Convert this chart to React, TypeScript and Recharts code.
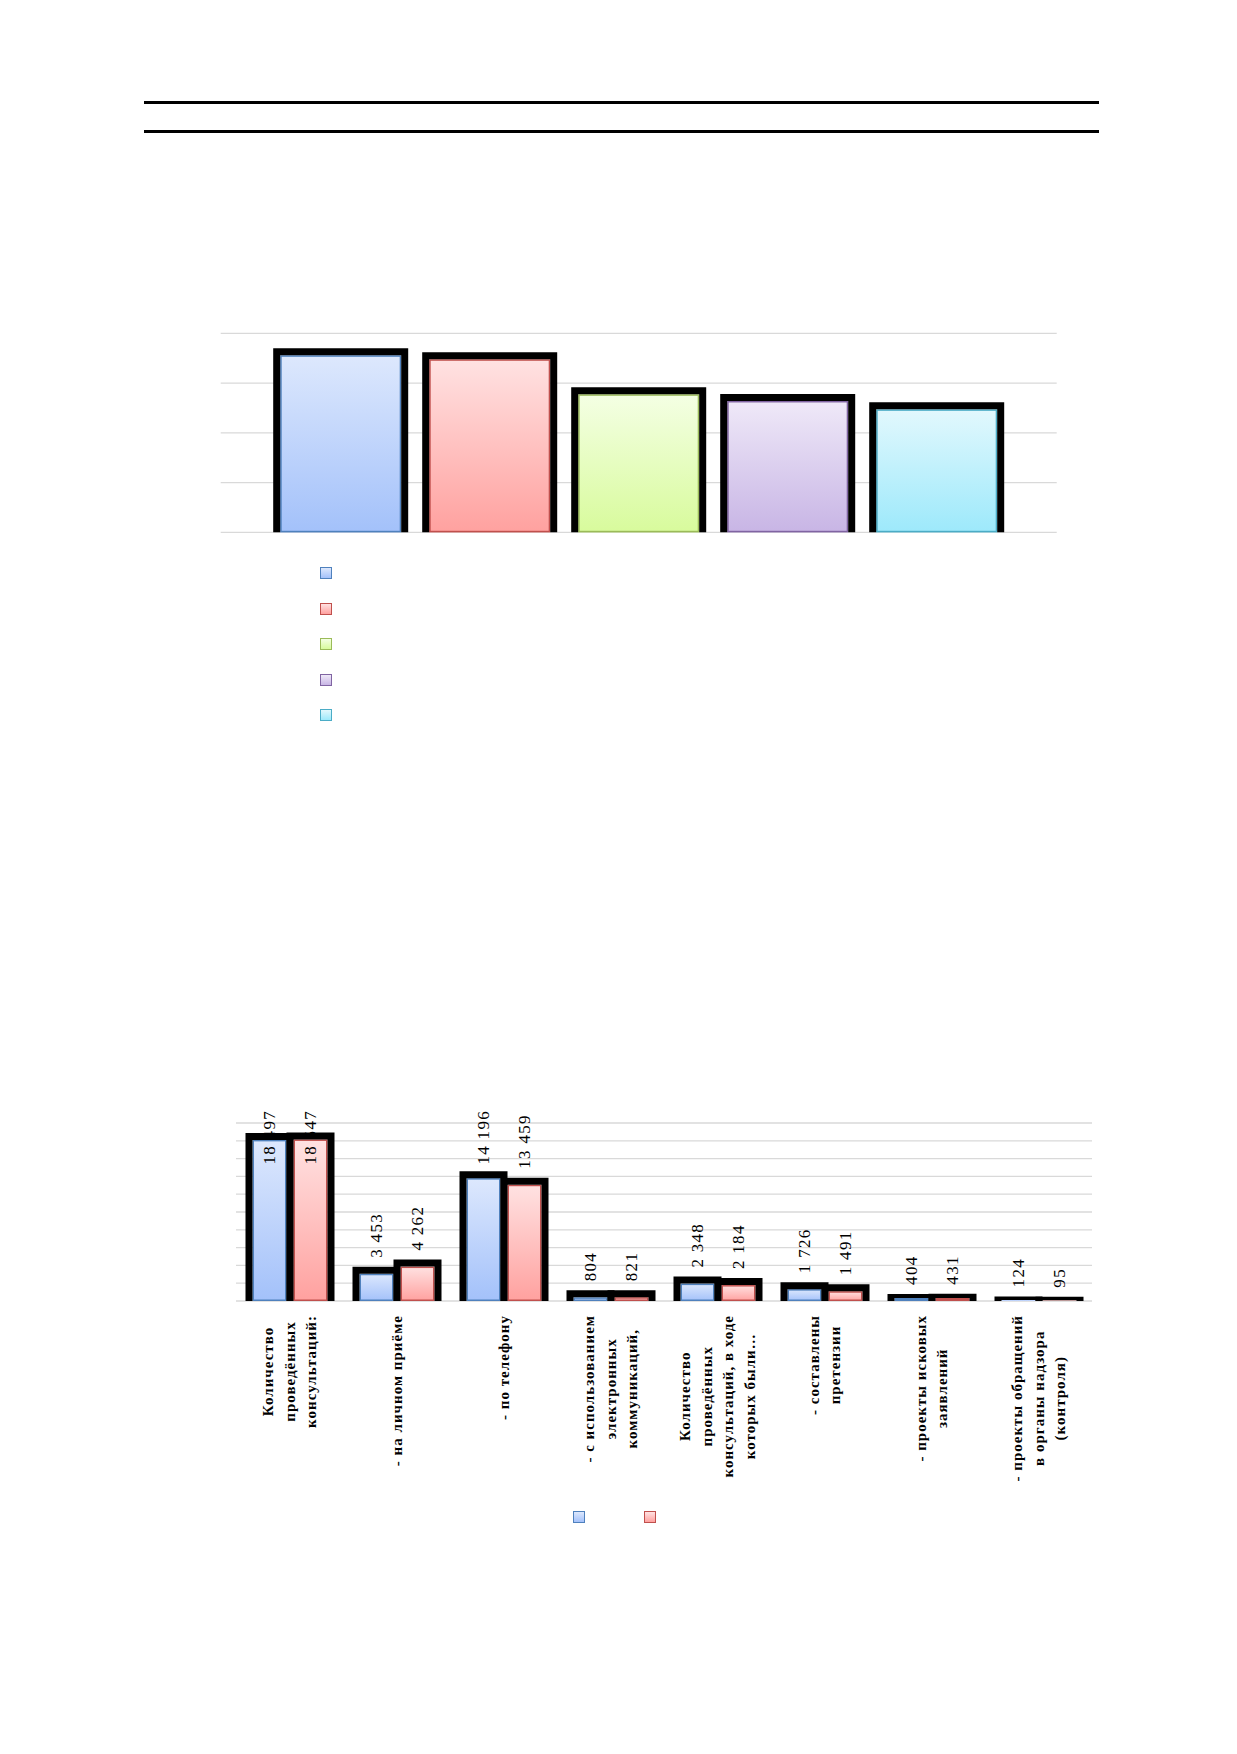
import React from 'react';
import { BarChart, Bar, XAxis, YAxis, CartesianGrid, LabelList } from 'recharts';

// ---------- Chart 1 data ----------
const CH1_CATEGORY = ['Всего'];
const CH1_KEYS = ['p1', 'p2', 'p3', 'p4', 'p5'];
const CH1_VALUES = [18140, 17740, 14220, 13550, 12710];
const CH1_TICKS = [0, 5000, 10000, 15000, 20000];

// ---------- Chart 2 data ----------
const CH2_CATEGORIES = [
  'Количество\nпроведённых\nконсультаций:',
  '- на личном приёме',
  '- по телефону',
  '- с использованием\nэлектронных\nкоммуникаций,',
  'Количество\nпроведённых\nконсультаций, в ходе\nкоторых были…',
  '- составлены\nпретензии',
  '- проекты исковых\nзаявлений',
  '- проекты обращений\nв органы надзора\n(контроля)',
];
const CH2_SERIES_A = [18497, 3453, 14196, 804, 2348, 1726, 404, 124];
const CH2_SERIES_B = [18547, 4262, 13459, 821, 2184, 1491, 431, 95];
const CH2_KEYS = ['a', 'b'];
const CH2_TICKS = [0, 2000, 4000, 6000, 8000, 10000, 12000, 14000, 16000, 18000, 20000];

// ---------- styles ----------
const PALETTE = [
  { id: 'gBlue', top: '#dde8fd', bottom: '#a3c1fa', border: '#4f81bd' },
  { id: 'gRed', top: '#ffe2e2', bottom: '#ffa19f', border: '#c0504d' },
  { id: 'gGreen', top: '#f4ffe4', bottom: '#d8fb9c', border: '#9bbb59' },
  { id: 'gPurple', top: '#efe9f8', bottom: '#c8b5e5', border: '#8064a2' },
  { id: 'gCyan', top: '#e2f8fd', bottom: '#9de9fb', border: '#4bacc6' },
];

const ch1Data = CH1_CATEGORY.map((name) => {
  const row: any = { name };
  CH1_KEYS.forEach((k, i) => (row[k] = CH1_VALUES[i]));
  return row;
});

const ch2Data = CH2_CATEGORIES.map((name, i) => ({ name, a: CH2_SERIES_A[i], b: CH2_SERIES_B[i] }));

let ctx: CanvasRenderingContext2D | null = null;
function textWidth(s: string, font: string, ls: number) {
  if (!ctx) ctx = document.createElement('canvas').getContext('2d');
  if (!ctx) return s.length * 8;
  ctx.font = font;
  return ctx.measureText(s).width + ls * s.length;
}

const fmt = (n: number) => String(n).replace(/\B(?=(\d{3})+(?!\d))/g, ' ');

function makeBarShape(gradId: string, border: string) {
  return (props: any) => {
    const { x, y, width, height } = props;
    if (x == null || y == null || width == null || height == null) return null;
    const h = Math.max(0, height);
    const bottom = y + h;
    const s = 3.5;
    const iy = Math.min(y + s, bottom - Math.min(3, h));
    const outer = `M${x - s},${y - s} H${x + width + s} V${bottom} H${x - s} Z`;
    const inner = `M${x + s},${iy} H${x + width - s} V${bottom} H${x + s} Z`;
    return (
      <g>
        {bottom - iy > 0 && (
          <rect x={x + s} y={iy} width={width - 2 * s} height={bottom - iy} fill={`url(#${gradId})`} />
        )}
        {bottom - iy > 1.5 && (
          <rect
            x={x + s + 0.75}
            y={iy + 0.75}
            width={width - 2 * s - 1.5}
            height={bottom - iy - 1.5}
            fill="none"
            stroke={border}
            strokeWidth={1.5}
          />
        )}
        <path d={`${outer} ${inner}`} fill="#000" fillRule="evenodd" />
      </g>
    );
  };
}

const LABEL_FONT = '17px "Liberation Serif"';
const LABEL_LS = 1.3;
const LABEL_TOP = 30;

const DataLabel = (props: any) => {
  const { x, y, width, value } = props;
  if (x == null || y == null) return null;
  const text = fmt(Number(value));
  const len = textWidth(text, LABEL_FONT, LABEL_LS);
  const cx = Number(x) + Number(width) / 2;
  let ay = Number(y) - 12.5;
  let anchor: 'start' | 'end' = 'start';
  if (ay - len < LABEL_TOP) {
    ay = LABEL_TOP;
    anchor = 'end';
  }
  return (
    <text
      transform={`translate(${cx},${ay}) rotate(-90)`}
      textAnchor={anchor}
      dominantBaseline="central"
      fontFamily="Liberation Serif"
      fontSize={17}
      style={{ letterSpacing: `${LABEL_LS}px` }}
      fill="#000"
    >
      {text}
    </text>
  );
};

const CAT_FONT = 'bold 15px "Liberation Serif"';
const CAT_LS = 1;
const CAT_LH = 21.7;

const CategoryTick = (props: any) => {
  const { x, y, payload } = props;
  const lines: string[] = String(payload.value).split('\n');
  const blockLen = Math.max(...lines.map((l) => textWidth(l, CAT_FONT, CAT_LS)));
  const top = Number(y) + 14;
  const n = lines.length;
  return (
    <g transform={`translate(${x},${top}) rotate(-90)`}>
      {lines.map((l, i) => (
        <text
          key={i}
          x={-blockLen / 2}
          y={(i - (n - 1) / 2) * CAT_LH}
          textAnchor="middle"
          dominantBaseline="central"
          fontFamily="Liberation Serif"
          fontWeight="bold"
          fontSize={15}
          style={{ letterSpacing: `${CAT_LS}px` }}
          fill="#000"
        >
          {l}
        </text>
      ))}
    </g>
  );
};

const legendSquare = (p: typeof PALETTE[number]) => ({
  width: 10,
  height: 10,
  border: `1.5px solid ${p.border}`,
  background: `linear-gradient(${p.top}, ${p.bottom})`,
  boxSizing: 'content-box' as const,
});

const gridFromTicks = (ticks: number[], max: number) => (props: any) => {
  const scale = props?.yAxis?.scale;
  try {
    if (typeof scale === 'function') return ticks.map((t) => scale(t));
    if (scale && typeof scale.map === 'function') return ticks.map((t) => scale.map(t));
  } catch (e) {
    /* fall through */
  }
  const off = props?.offset;
  if (off) return ticks.map((t) => off.top + off.height * (1 - t / max));
  return [];
};

export default function App() {
  return (
    <div style={{ position: 'absolute', left: 0, top: 0, width: 1237, height: 1754, background: '#fff', overflow: 'hidden' }}>
      <svg width={0} height={0} style={{ position: 'absolute' }}>
        <defs>
          {PALETTE.map((p) => (
            <linearGradient key={p.id} id={p.id} x1="0" y1="0" x2="0" y2="1">
              <stop offset="0%" stopColor={p.top} />
              <stop offset="100%" stopColor={p.bottom} />
            </linearGradient>
          ))}
        </defs>
      </svg>

      {/* header rules */}
      <div style={{ position: 'absolute', left: 144, top: 100.5, width: 955, height: 3, background: '#000' }} />
      <div style={{ position: 'absolute', left: 144, top: 129.5, width: 955, height: 3, background: '#000' }} />

      {/* Chart 1 */}
      <div style={{ position: 'absolute', left: 0, top: 0 }}>
        <BarChart
          width={1237}
          height={560}
          data={ch1Data}
          margin={{ top: 333.3, right: 180.3, left: 220.7, bottom: 27.7 }}
          barSize={128}
          barGap={21}
        >
          <CartesianGrid
            vertical={false}
            stroke="#d9d9d9"
            strokeWidth={1.3}
            horizontalCoordinatesGenerator={gridFromTicks(CH1_TICKS, 20000)}
          />
          <XAxis dataKey="name" hide />
          <YAxis
            domain={[0, 20000]}
            ticks={CH1_TICKS}
            width={0}
            tick={{ fill: 'transparent', fontSize: 1 }}
            axisLine={false}
            tickLine={false}
          />
          {CH1_KEYS.map((k, i) => (
            <Bar
              key={k}
              dataKey={k}
              isAnimationActive={false}
              shape={makeBarShape(PALETTE[i].id, PALETTE[i].border)}
            />
          ))}
        </BarChart>
      </div>

      {/* Chart 1 legend */}
      {CH1_KEYS.map((k, i) => (
        <div key={k} style={{ position: 'absolute', left: 320, top: 567.3 + i * 35.4, ...legendSquare(PALETTE[i]) }} />
      ))}

      {/* Chart 2 */}
      <div style={{ position: 'absolute', left: 0, top: 1080 }}>
        <BarChart
          width={1237}
          height={500}
          data={ch2Data}
          margin={{ top: 43, right: 145, left: 236, bottom: 79 }}
          barSize={41}
          barGap={0}
        >
          <CartesianGrid
            vertical={false}
            stroke="#d9d9d9"
            strokeWidth={1.3}
            horizontalCoordinatesGenerator={gridFromTicks(CH2_TICKS, 20000)}
          />
          <XAxis
            dataKey="name"
            interval={0}
            height={200}
            axisLine={false}
            tickLine={false}
            tickSize={0}
            tickMargin={0}
            tick={<CategoryTick />}
          />
          <YAxis
            domain={[0, 20000]}
            ticks={CH2_TICKS}
            width={0}
            tick={{ fill: 'transparent', fontSize: 1 }}
            axisLine={false}
            tickLine={false}
          />
          {CH2_KEYS.map((k, i) => (
            <Bar key={k} dataKey={k} isAnimationActive={false} shape={makeBarShape(PALETTE[i].id, PALETTE[i].border)}>
              <LabelList dataKey={k} content={<DataLabel />} />
            </Bar>
          ))}
        </BarChart>
      </div>

      {/* Chart 2 legend */}
      {CH2_KEYS.map((k, i) => (
        <div key={k} style={{ position: 'absolute', left: 573 + i * 71, top: 1511, ...legendSquare(PALETTE[i]) }} />
      ))}
    </div>
  );
}
